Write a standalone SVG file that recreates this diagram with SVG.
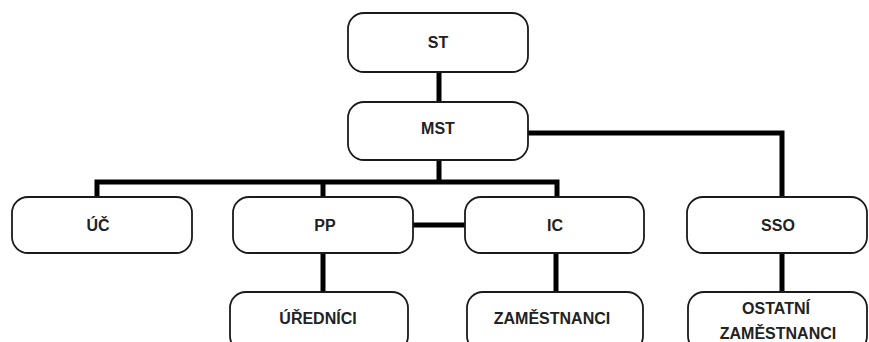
<svg xmlns="http://www.w3.org/2000/svg" width="869" height="342" viewBox="0 0 869 342">
<style>
.box{fill:#fff;stroke:#1a1a1a;stroke-width:1.8}
.t{font-family:"Liberation Sans",Arial,sans-serif;font-weight:bold;font-size:16px;fill:#222;text-anchor:middle}
.c{fill:none;stroke:#000;stroke-width:5}
</style>
<rect width="869" height="342" fill="#fff"/>
<g id="connectors">
<path class="c" d="M439 72V102"/>
<path class="c" d="M439 160V182M97 197V182H557V197M323 182V197"/>
<path class="c" d="M528 133H782V197"/>
<path class="c" d="M413 225H465"/>
<path class="c" d="M323 253V292"/>
<path class="c" d="M556 253V292"/>
<path class="c" d="M782 253V292"/>
</g>
<g id="ST"><rect class="box" x="348" y="13" width="180" height="59" rx="16"/><text class="t" x="438" y="48">ST</text></g>
<g id="MST"><rect class="box" x="348" y="102" width="180" height="58" rx="16"/><text class="t" x="438" y="134">MST</text></g>
<g id="UC"><rect class="box" x="12" y="197" width="180" height="56" rx="16"/><text class="t" x="98" y="231">ÚČ</text></g>
<g id="PP"><rect class="box" x="233" y="197" width="180" height="56" rx="16"/><text class="t" x="325" y="231">PP</text></g>
<g id="IC"><rect class="box" x="465" y="197" width="179" height="56" rx="16"/><text class="t" x="555" y="231">IC</text></g>
<g id="SSO"><rect class="box" x="687" y="197" width="180" height="56" rx="16"/><text class="t" x="778" y="231">SSO</text></g>
<g id="UREDNICI"><rect class="box" x="230" y="292" width="178" height="60" rx="16"/><text class="t" x="318" y="324">ÚŘEDNÍCI</text></g>
<g id="ZAMESTNANCI"><rect class="box" x="467" y="292" width="176" height="60" rx="16"/><text class="t" x="552" y="324">ZAMĚSTNANCI</text></g>
<g id="OSTATNI"><rect class="box" x="688" y="292" width="179" height="60" rx="16"/><text class="t" x="776" y="314">OSTATNÍ</text><text class="t" x="778" y="339">ZAMĚSTNANCI</text></g>
</svg>
